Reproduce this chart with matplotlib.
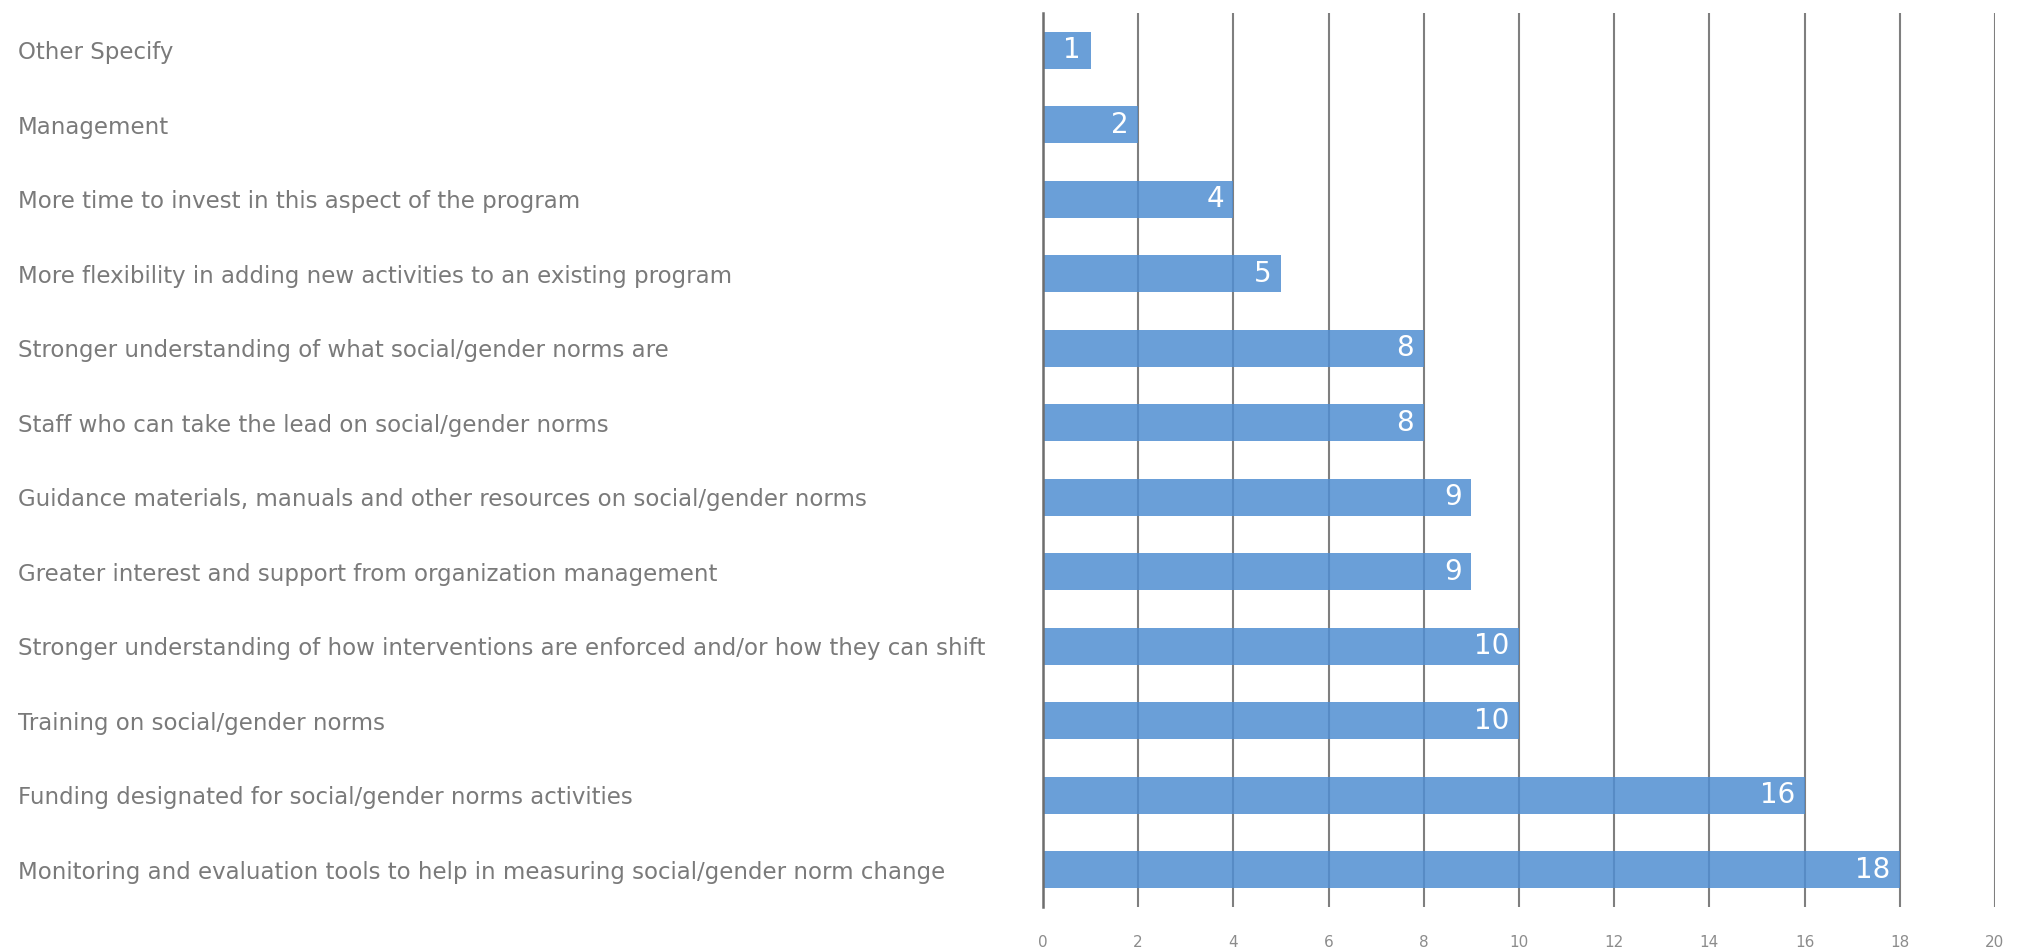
import numpy as np
import matplotlib.pyplot as plt

# survey responses, listed top to bottom
categories = [
    "Other Specify",
    "Management",
    "More time to invest in this aspect of the program",
    "More flexibility in adding new activities to an existing program",
    "Stronger understanding of what social/gender norms are",
    "Staff who can take the lead on social/gender norms",
    "Guidance materials, manuals and other resources on social/gender norms",
    "Greater interest and support from organization management",
    "Stronger understanding of how interventions are enforced and/or how they can shift",
    "Training on social/gender norms",
    "Funding designated for social/gender norms activities",
    "Monitoring and evaluation tools to help in measuring social/gender norm change",
]
counts = [1, 2, 4, 5, 8, 8, 9, 9, 10, 10, 16, 18]
x_ticks = [0, 2, 4, 6, 8, 10, 12, 14, 16, 18, 20]

fig = plt.figure(figsize=(20.29, 9.5), dpi=100)
ax = fig.add_axes([0.514, 0.0453, 0.4692, 0.941])

y = np.arange(len(categories))
bars = ax.barh(y, counts, height=0.5, color="#508ed2", alpha=0.85, zorder=1)

# value labels sit inside the end of each bar
for rect, val in zip(bars, counts):
    ax.text(rect.get_width() - 0.2, rect.get_y() + rect.get_height() / 2, str(val),
            ha="right", va="center", color="white", fontsize=20, zorder=3)

ax.set_xlim(0, 20)
ax.set_ylim(len(categories) - 0.5, -0.5)
ax.set_xticks(x_ticks)
ax.set_xticklabels([str(t) for t in x_ticks])
ax.xaxis.grid(True, color="#7f7f7f", linewidth=1.5, zorder=0)
ax.set_axisbelow(True)

ax.set_yticks(y)
ax.set_yticklabels(categories)
for lbl in ax.get_yticklabels():
    lbl.set_horizontalalignment("left")
ax.tick_params(axis="y", length=0, pad=738, labelsize=16.5, labelcolor="#7a7a7a")
ax.tick_params(axis="x", length=0, pad=20, labelsize=11, labelcolor="#8c8c8c")

for side in ["top", "right", "bottom"]:
    ax.spines[side].set_visible(False)
ax.spines["left"].set_color("#6e6e6e")
ax.spines["left"].set_linewidth(1.8)

fig.savefig("out.png", dpi=100)
